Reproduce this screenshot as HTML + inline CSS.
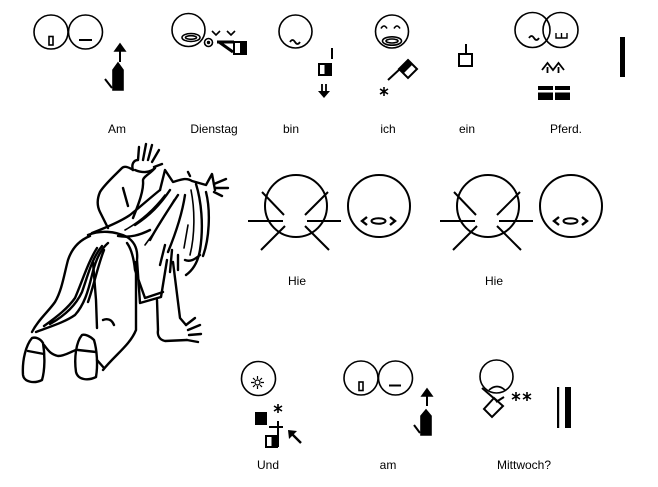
<!DOCTYPE html>
<html><head><meta charset="utf-8"><style>
html,body{margin:0;padding:0;background:#fff;}
svg{display:block;}
text{font-family:"Liberation Sans",Arial,sans-serif;font-size:12px;fill:#000;}
</style></head><body>
<svg width="658" height="487" viewBox="0 0 658 487" xmlns="http://www.w3.org/2000/svg">
<rect width="658" height="487" fill="#fff"/>
<g fill="none" stroke="#000" stroke-width="1.6">
<!-- Am -->
<circle cx="51" cy="32" r="17"/><circle cx="85.5" cy="32" r="17"/>
<rect x="49" y="36.5" width="4" height="8.5"/>
<line x1="79" y1="40" x2="92" y2="40" stroke-width="2"/>
<line x1="120" y1="49" x2="120" y2="62" stroke-width="2"/>
<polygon points="115,51 120,44 125,51" fill="#000"/>
<polygon points="113,70 118,63 123,70 123,90 113,90" fill="#000"/>
<line x1="105" y1="79" x2="112" y2="88" stroke-width="2"/>
<!-- Dienstag -->
<circle cx="188.5" cy="30" r="16.5"/>
<ellipse cx="191" cy="37.5" rx="9" ry="4"/><ellipse cx="191" cy="37.5" rx="5.5" ry="1.8"/>
<circle cx="208.5" cy="42.5" r="4"/><circle cx="208.5" cy="42.5" r="0.9" fill="#000"/>
<polyline points="212,31 216,35 220,31"/><polyline points="227,31 231,35 235,31"/>
<line x1="217" y1="42" x2="234" y2="42" stroke-width="3"/>
<line x1="219" y1="42" x2="233" y2="52" stroke-width="3"/>
<rect x="234" y="42" width="12" height="12" stroke-width="2" fill="#fff"/>
<rect x="240" y="41" width="7" height="14" fill="#000" stroke="none"/>
<!-- bin -->
<circle cx="295.5" cy="31.5" r="16.5"/>
<path d="M290,42 q2.5,-4 5,0 t5,0" stroke-width="1.8"/>
<line x1="332" y1="48" x2="332" y2="59" stroke-width="2"/>
<rect x="319" y="64" width="12" height="11" stroke-width="2"/>
<rect x="324.5" y="63" width="7.5" height="13" fill="#000" stroke="none"/>
<line x1="322" y1="84" x2="322" y2="92" stroke-width="1.8"/><line x1="326" y1="84" x2="326" y2="92" stroke-width="1.8"/>
<polygon points="318,91 330,91 324,98" fill="#000" stroke="none"/>
<!-- ich -->
<circle cx="392" cy="31.5" r="16.5"/>
<path d="M381,28.5 q3,-5 6,0 M394,28.5 q3,-5 6,0"/>
<ellipse cx="392" cy="41" rx="9.5" ry="4.2"/><ellipse cx="392" cy="41" rx="6" ry="2"/>
<line x1="388" y1="80" x2="401" y2="68" stroke-width="2"/>
<polygon points="408,60 417,69 408,78 399,69" stroke-width="2"/>
<polygon points="399,69 408,60 412.5,64.5 403.5,73.5" fill="#000" stroke="none"/>
<path d="M384,87 v9 M380,89 l8,5 M388,89 l-8,5" stroke-width="1.6"/>
<!-- ein -->
<line x1="466" y1="44" x2="466" y2="54" stroke-width="2"/>
<rect x="459" y="54" width="13" height="12" stroke-width="2"/>
<!-- Pferd -->
<circle cx="532.5" cy="30" r="17.5"/><circle cx="560.5" cy="30" r="17.5"/>
<path d="M529,38 q2.5,-4 5,0 t5,0" stroke-width="1.8"/>
<path d="M556,33 v5 h11 v-5 M561.5,33 v5" stroke-width="1.4"/>
<polyline points="542,70 547.5,63 553,70 558.5,63 564,70" stroke-width="1.8"/>
<path d="M547.5,67 v6 M558.5,67 v6" stroke-width="1.8"/>
<g fill="#000" stroke="none">
<rect x="538" y="86" width="15" height="4"/><rect x="555" y="86" width="15" height="4"/>
<rect x="538" y="92.5" width="15" height="7.5"/><rect x="555" y="92.5" width="15" height="7.5"/>
<rect x="620" y="37" width="5" height="40"/>
</g>
<!-- Hie groups -->
<g id="hie" stroke-width="2">
<circle cx="296" cy="206" r="31"/>
<line x1="248" y1="221" x2="283" y2="221"/><line x1="307" y1="221" x2="341" y2="221"/>
<line x1="262" y1="192" x2="284" y2="215"/><line x1="328" y1="192" x2="305" y2="215"/>
<line x1="285" y1="226" x2="261" y2="250"/><line x1="305" y1="226" x2="329" y2="250"/>
<circle cx="379" cy="206" r="31"/>
<ellipse cx="378.5" cy="221" rx="7" ry="2.8"/>
<polyline points="367,217 362,221 367,225" stroke-width="2.4"/>
<polyline points="390,217 395,221 390,225" stroke-width="2.4"/>
</g>
<use href="#hie" x="192" y="0"/>
<!-- Und -->
<circle cx="258.5" cy="378.5" r="17"/>
<circle cx="257.5" cy="382.5" r="2.5" stroke-width="1.2"/>
<path d="M257.5,376 v3 M257.5,386 v3 M251,382.5 h3 M261,382.5 h3 M253,378 l2,2 M262,378 l-2,2 M253,387 l2,-2 M262,387 l-2,-2" stroke-width="1.2"/>
<rect x="255" y="412" width="12" height="13" fill="#000" stroke="none"/>
<path d="M278,404 v9 M274,406 l8,5 M282,406 l-8,5" stroke-width="1.6"/>
<line x1="269" y1="427" x2="283" y2="427" stroke-width="2"/>
<line x1="278" y1="421" x2="278" y2="447" stroke-width="2"/>
<rect x="266" y="436" width="11" height="11" stroke-width="2"/>
<rect x="271.5" y="435" width="6.5" height="13" fill="#000" stroke="none"/>
<line x1="292" y1="434" x2="301" y2="443" stroke-width="2.4"/>
<polygon points="288,430 297,431 289,439" fill="#000" stroke="none"/>
<!-- am -->
<circle cx="361" cy="378" r="17"/><circle cx="395.5" cy="378" r="17"/>
<rect x="359" y="382" width="4" height="8.5"/>
<line x1="389" y1="385.5" x2="401" y2="385.5" stroke-width="2"/>
<line x1="427" y1="394" x2="427" y2="406" stroke-width="2"/>
<polygon points="422,396 427,389 432,396" fill="#000"/>
<polygon points="421,416 426,410 431,416 431,435 421,435" fill="#000"/>
<line x1="414" y1="425" x2="420" y2="433" stroke-width="2"/>
<!-- Mittwoch -->
<circle cx="496.5" cy="376.5" r="16.5"/>
<path d="M489,390 q8,-7 16,0"/>
<line x1="482" y1="388" x2="497" y2="401" stroke-width="2"/>
<line x1="504" y1="397" x2="496" y2="402" stroke-width="2"/>
<polygon points="494,398 503,406 492,417 484,409" stroke-width="2"/>
<path d="M516,392 v9 M512,394 l8,5 M520,394 l-8,5 M527,392 v9 M523,394 l8,5 M531,394 l-8,5" stroke-width="1.6"/>
<rect x="557" y="387" width="2.2" height="41" fill="#000" stroke="none"/>
<rect x="565" y="387" width="6" height="41" fill="#000" stroke="none"/>
</g>
<!-- Horse -->
<g fill="none" stroke="#000" stroke-width="2.4" stroke-linecap="round" stroke-linejoin="round">
<!-- raised hand -->
<path d="M133,170 C131,164 134,160 138,160 L139,147 M143,160 L146,144 M148,160 L152,145 M152,162 L159,150 M154,167 L162,164 M135,170 C142,173 150,173 155,168"/>
<!-- sleeve -->
<path d="M133,170 C127,166 124,166 122,168 C114,176 104,185 100,192 C97,199 97,206 100,212 L108,228"/>
<path d="M155,168 C150,174 144,176 143,180 C144,190 139,203 133,218"/>
<path d="M123,188 L128,206"/>
<!-- head, ears -->
<path d="M160,190 L165,170 L173,182 C180,180 186,177 192,181 L206,185 L212,174 L215,190"/>
<path d="M214,184 L226,179 M215,188 L228,188 M214,192 L222,196 M190,176 L188,172"/>
<!-- neck / mane -->
<path d="M160,190 C150,198 140,207 130,215 C120,222 105,228 92,233"/>
<path d="M170,190 C160,205 150,215 135,225 M178,195 C168,210 158,225 150,240 M185,195 C182,215 175,235 168,252 M150,230 C140,235 130,238 118,236"/>
<path d="M165,195 C155,208 143,220 125,230 M174,200 C164,218 155,232 145,245" stroke-width="1.6"/>
<path d="M196,184 C201,200 204,225 200,250 C198,262 193,270 186,275 M206,192 C211,212 209,240 203,256 M200,255 C194,260 190,262 185,260"/>
<path d="M191,190 C195,210 195,235 190,255 M188,225 L184,248" stroke-width="1.6"/>
<path d="M165,245 L160,265 M172,250 L170,272 M178,255 L178,270"/>
<!-- blanket -->
<path d="M88,235 C100,230 115,231 127,237 C135,242 138,250 137,260 L140,303 L161,297 L167,260"/>
<path d="M127,243 C132,250 134,260 135,270 L145,298 L163,292"/>
<!-- front leg -->
<path d="M157,300 L158,330 C157,336 160,340 165,341 L187,340 M173,262 L180,318 L186,325"/>
<path d="M186,325 L195,318 M188,330 L200,325 M189,335 L201,334 M187,340 L198,342"/>
<!-- tail -->
<path d="M90,236 C80,240 72,248 68,260 C64,275 62,290 55,302 C48,312 38,320 32,332"/>
<path d="M108,243 C100,250 95,262 92,275 C88,292 84,305 75,315 C65,322 52,326 36,332"/>
<path d="M102,246 C92,258 88,275 82,292 C76,305 66,315 50,324 M97,248 C88,262 82,282 75,298 C68,308 58,316 44,326 M104,250 C98,265 94,285 88,302"/>
<!-- back / pants -->
<path d="M93,262 L96,300 L97,328 M103,320 C108,318 112,320 114,325"/>
<path d="M136,262 L136,330 C130,345 115,355 103,370"/>
<!-- shoes -->
<path d="M32,338 C26,345 22,360 23,375 C24,382 34,384 42,380 C45,370 45,355 43,343 C40,338 35,337 32,338 Z"/>
<path d="M28,351 L44,354"/>
<path d="M82,335 C76,342 74,358 76,372 C78,380 88,381 96,377 C98,365 97,350 94,340 C90,336 85,334 82,335 Z"/>
<path d="M78,350 L96,352"/>
<path d="M44,345 C48,350 50,354 58,356 C65,356 70,352 76,350 M97,360 L104,368"/>
</g>
<!-- Labels -->
<text x="117" y="133" text-anchor="middle">Am</text>
<text x="214" y="133" text-anchor="middle">Dienstag</text>
<text x="291" y="133" text-anchor="middle">bin</text>
<text x="388" y="133" text-anchor="middle">ich</text>
<text x="467" y="133" text-anchor="middle">ein</text>
<text x="566" y="133" text-anchor="middle">Pferd.</text>
<text x="297" y="285" text-anchor="middle">Hie</text>
<text x="494" y="285" text-anchor="middle">Hie</text>
<text x="268" y="469" text-anchor="middle">Und</text>
<text x="388" y="469" text-anchor="middle">am</text>
<text x="524" y="469" text-anchor="middle">Mittwoch?</text>
</svg>
</body></html>
